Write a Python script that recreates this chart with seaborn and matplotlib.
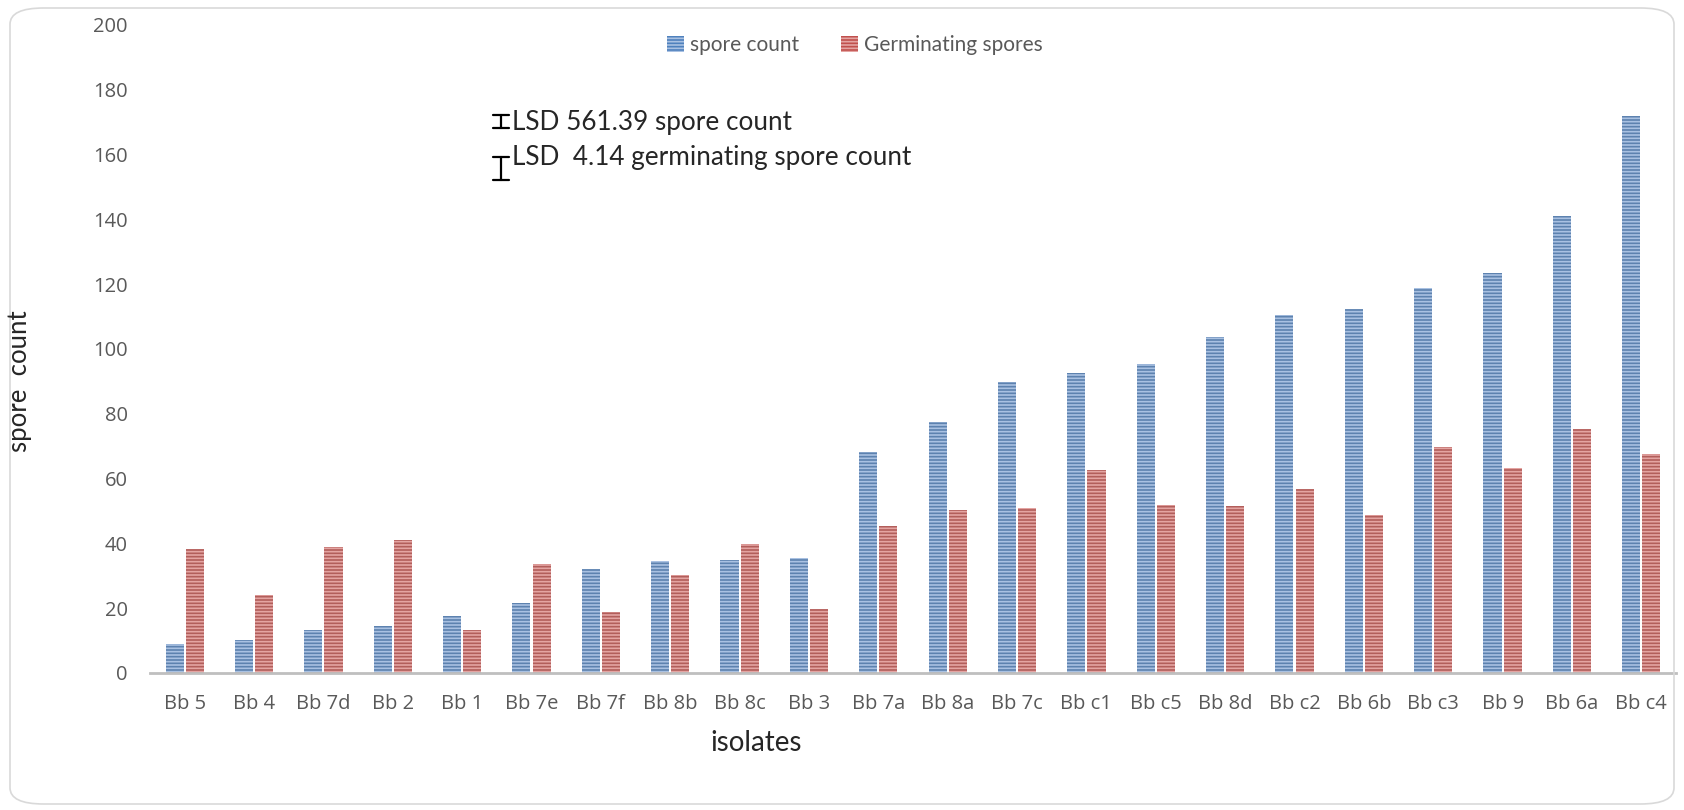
import numpy as np
import pandas as pd
import seaborn as sns
import matplotlib.pyplot as plt
from matplotlib.patches import FancyBboxPatch, Patch

#################
###Chart data ###
#################
isolates = ["Bb 5", "Bb 4", "Bb 7d", "Bb 2", "Bb 1", "Bb 7e", "Bb 7f", "Bb 8b", "Bb 8c", "Bb 3", "Bb 7a",
            "Bb 8a", "Bb 7c", "Bb c1", "Bb c5", "Bb 8d", "Bb c2", "Bb 6b", "Bb c3", "Bb 9", "Bb 6a", "Bb c4"]
spore_count = [9.0, 10.2, 13.4, 14.4, 17.6, 21.5, 32.0, 34.5, 35.0, 35.5, 68.2,
               77.5, 89.8, 92.5, 95.5, 103.8, 110.6, 112.4, 118.9, 123.4, 140.9, 171.9]
germinating = [38.3, 24.0, 39.0, 41.0, 13.2, 33.6, 18.8, 30.3, 39.7, 19.6, 45.4,
               50.4, 50.8, 62.7, 52.0, 51.6, 56.9, 48.7, 69.6, 63.3, 75.4, 67.7]
series_names = ["spore count", "Germinating spores"]
series_colors = ["#4F81BD", "#C0504D"]
stripe_colors = ["#a9c1e2", "#e4a4a2"]

df = pd.DataFrame({"isolate": isolates * 2,
                   "value": spore_count + germinating,
                   "series": [series_names[0]] * len(isolates) + [series_names[1]] * len(isolates)})

sns.set_style("white")
plt.rcParams['font.family'] = ['Open Sans', 'DejaVu Sans']
plt.rcParams['hatch.linewidth'] = 1.2

fig = plt.figure(figsize=(16.84, 8.10), dpi=100)
ax = fig.add_axes([150 / 1684, 1 - 673 / 810, (1676 - 150) / 1684, (673 - 25) / 810])

sns.barplot(data=df, x="isolate", y="value", hue="series", order=isolates, hue_order=series_names,
            palette=series_colors, width=0.58, gap=0.1, ax=ax, legend=False)

# striped texture like the original
n = len(isolates)
for i, p in enumerate(ax.patches[:2 * n]):
    k = i // n
    p.set_hatch("-----")
    p.set_edgecolor(stripe_colors[k])
    p.set_linewidth(0)

ax.set_ylim(0, 200)
ax.set_xlim(-0.5, n - 0.5)
ax.set_yticks(np.arange(0, 201, 20))
ax.tick_params(axis="y", length=0, labelsize=14.5, labelcolor="#595959", pad=16)
ax.tick_params(axis="x", which="major", length=0, labelsize=14.5, labelcolor="#595959", pad=15)
ax.set_xticks(np.arange(-0.5, n, 1), minor=True)
ax.tick_params(axis="x", which="minor", length=6, width=1.5, color="#bfbfbf")
for s in ["top", "right", "left"]:
    ax.spines[s].set_visible(False)
ax.spines["bottom"].set_color("#bfbfbf")
ax.spines["bottom"].set_linewidth(2)
ax.grid(False)

ax.set_xlabel("isolates", fontsize=20, family="Lato")
ax.xaxis.set_label_coords((756 - 150) / 1526, (673 - 743) / 648)
ax.xaxis.label.set_verticalalignment("center")
ax.set_ylabel("")
fig.text(20 / 1684, 1 - 381 / 810, "spore  count", fontsize=18.5, family="Lato", rotation=90,
         ha="center", va="center")

# legend
handles = [Patch(facecolor=series_colors[k], hatch="-----", edgecolor=stripe_colors[k], linewidth=0)
           for k in range(2)]
leg = fig.legend(handles, series_names, loc="center", bbox_to_anchor=(855 / 1684, 1 - 45 / 810), ncol=2,
                 frameon=False, handlelength=0.8, handleheight=0.8, handletextpad=0.3,
                 columnspacing=2.0, prop={"family": "Lato", "size": 15})
for t in leg.get_texts():
    t.set_color("#595959")

# LSD annotations
fig.text(512 / 1684, 1 - 130 / 810, "LSD 561.39 spore count", fontsize=18.8, family="Lato", va="baseline")
fig.text(512 / 1684, 1 - 165 / 810, "LSD  4.14 germinating spore count", fontsize=18.8, family="Lato",
         va="baseline")
for xc, y0, y1 in [(501, 115, 128), (501, 157, 180)]:
    fig.lines.append(plt.Line2D([xc / 1684] * 2, [1 - y0 / 810, 1 - y1 / 810], color="black", lw=1.6,
                                transform=fig.transFigure))
    for yy in (y0, y1):
        fig.lines.append(plt.Line2D([(xc - 8) / 1684, (xc + 8) / 1684], [1 - yy / 810] * 2, color="black",
                                    lw=1.6, transform=fig.transFigure))

# rounded outer frame
frame = FancyBboxPatch((10 / 1684, 6 / 810), 1664 / 1684, 796 / 810, boxstyle="round,pad=0,rounding_size=0.02",
                       transform=fig.transFigure, facecolor="none", edgecolor="#d9d9d9", lw=1.2)
fig.patches.append(frame)

plt.savefig("out.png", dpi=100)
